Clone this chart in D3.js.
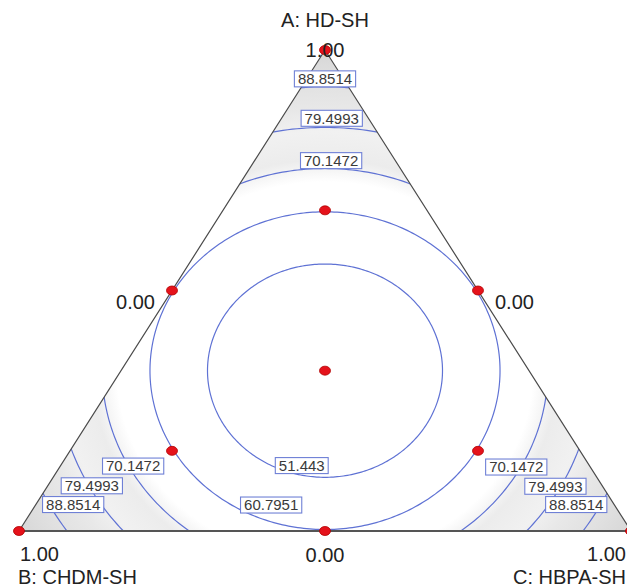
<!DOCTYPE html>
<html><head><meta charset="utf-8">
<script src="https://cdn.jsdelivr.net/npm/d3@7"></script>
<style>html,body{margin:0;padding:0;background:#fff;} svg{display:block;}</style>
</head><body>
<svg id="chart" width="627" height="588"></svg>
<script>
// ---- data (compositions are [A, B, C]) ----
const levels = [51.443, 60.7951, 70.1472, 79.4993, 88.8514];
const levelRadius = [0.192, 0.286, 0.364, 0.438, 0.511]; // distance from centroid (side = 1)
const labelLevel = [88.8514, 79.4993, 70.1472, 70.1472, 79.4993, 88.8514, 70.1472, 79.4993, 88.8514, 51.443, 60.7951];
const labelA = [0.940, 0.858, 0.770, 0.135, 0.094, 0.055, 0.133, 0.093, 0.055, 0.136, 0.054];
const labelC = [0.030, 0.082, 0.125, 0.119, 0.072, 0.061, 0.746, 0.830, 0.883, 0.394, 0.385];
const pointA = [1, 0, 0, 0.5, 0.5, 0, 1/3, 2/3, 1/6, 1/6];
const pointB = [0, 1, 0, 0.5, 0, 0.5, 1/3, 1/6, 2/3, 1/6];
const pointC = [0, 0, 1, 0, 0.5, 0.5, 1/3, 1/6, 1/6, 2/3];
const axisTitles = ["A: HD-SH", "B: CHDM-SH", "C: HBPA-SH"];
const vertexTicks = ["1.00", "1.00", "1.00"];
const oppositeTicks = ["0.00", "0.00", "0.00"]; // on sides BC, AC, AB

// ---- scales ----
const H = Math.sqrt(3) / 2;
const x = d3.scaleLinear().domain([0, 1]).range([19, 631]);
const y = d3.scaleLinear().domain([0, H]).range([531, 50]);
const proj = (a, b, c) => [x(c + a / 2), y(a * H)];
const cen = [0.5, H / 3];

const svg = d3.select("#chart");
const defs = svg.append("defs");
const A = proj(1, 0, 0), B = proj(0, 1, 0), C = proj(0, 0, 1);
const triPath = `M${A}L${B}L${C}Z`;
defs.append("clipPath").attr("id", "tri").append("path").attr("d", triPath);

// shading gradient (elliptical in px because of axis aspect)
const cpx = x(cen[0]), cpy = y(cen[1]);
const sx = x(1) - x(0), sy = (y(0) - y(H)) / H;
const grad = defs.append("radialGradient").attr("id", "shade")
  .attr("gradientUnits", "userSpaceOnUse")
  .attr("cx", cpx).attr("cy", cpy).attr("r", sx).attr("fx", cpx).attr("fy", cpy)
  .attr("gradientTransform", `translate(${cpx},${cpy}) scale(1,${sy / sx}) translate(${-cpx},${-cpy})`);
[[0, "#ffffff"], [0.34, "#ffffff"], [0.38, "#ececec"], [0.43, "#f1f1f1"], [0.47, "#e8e8e8"], [0.52, "#e1e1e1"], [0.58, "#d6d6d6"], [1, "#d6d6d6"]]
  .forEach(s => grad.append("stop").attr("offset", s[0]).attr("stop-color", s[1]));

const plot = svg.append("g").attr("clip-path", "url(#tri)");
plot.append("path").attr("d", triPath).attr("fill", "url(#shade)");

// contours
const angles = d3.range(0, 361, 1).map(d => d * Math.PI / 180);
const line = d3.line().x(p => x(p[0])).y(p => y(p[1]));
plot.selectAll("path.contour").data(levels).join("path")
  .attr("class", "contour")
  .attr("d", (v, i) => line(angles.map(t => [cen[0] + levelRadius[i] * Math.cos(t), cen[1] + levelRadius[i] * Math.sin(t)])))
  .attr("fill", "none").attr("stroke", "#5f72d4").attr("stroke-width", 1.2);

// triangle edges
svg.append("path").attr("d", `M${B}L${A}L${C}`).attr("fill", "none").attr("stroke", "#4a4a4a").attr("stroke-width", 1.2);
svg.append("path").attr("d", `M${B}L${C}`).attr("fill", "none").attr("stroke", "#555").attr("stroke-width", 2);

// contour labels
const lab = svg.append("g").attr("font-family", "Liberation Sans, Arial, sans-serif").attr("font-size", 15);
labelLevel.forEach((v, i) => {
  const a = labelA[i], c = labelC[i], b = 1 - a - c;
  const [px, py] = proj(a, b, c);
  const g = lab.append("g").attr("transform", `translate(${px},${py})`);
  const t = g.append("text").attr("text-anchor", "middle").attr("dy", "0.36em").attr("fill", "#3a3a3a").text(String(v));
  const w = t.node().getComputedTextLength() + 7;
  g.insert("rect", "text").attr("x", -w / 2).attr("y", -8).attr("width", w).attr("height", 16)
    .attr("fill", "#fff").attr("stroke", "#6f80d6").attr("stroke-width", 1.1);
});

// design points
svg.selectAll("ellipse.pt").data(pointA).join("ellipse").attr("class", "pt")
  .attr("cx", (a, i) => proj(a, pointB[i], pointC[i])[0])
  .attr("cy", (a, i) => proj(a, pointB[i], pointC[i])[1])
  .attr("rx", 5.5).attr("ry", 4.5).attr("fill", "#e5121b").attr("stroke", "#b00000").attr("stroke-width", 0.8);

// axis text
const txt = svg.append("g").attr("font-family", "Liberation Sans, Arial, sans-serif").attr("font-size", 20).attr("fill", "#222");
txt.append("text").attr("x", A[0]).attr("y", 27).attr("text-anchor", "middle").text(axisTitles[0]);
txt.append("text").attr("x", A[0]).attr("y", 57).attr("text-anchor", "middle").text(vertexTicks[0]);
txt.append("text").attr("x", B[0] + 1).attr("y", 561).attr("text-anchor", "start").text(vertexTicks[1]);
txt.append("text").attr("x", B[0] - 1).attr("y", 583.5).attr("text-anchor", "start").text(axisTitles[1]);
txt.append("text").attr("x", 626).attr("y", 561).attr("text-anchor", "end").text(vertexTicks[2]);
txt.append("text").attr("x", 626).attr("y", 583.5).attr("text-anchor", "end").text(axisTitles[2]);
const mBC = proj(0, 0.5, 0.5), mAB = proj(0.5, 0.5, 0), mAC = proj(0.5, 0, 0.5);
txt.append("text").attr("x", mBC[0]).attr("y", 562).attr("text-anchor", "middle").text(oppositeTicks[0]);
txt.append("text").attr("x", mAB[0] - 17).attr("y", 309).attr("text-anchor", "end").text(oppositeTicks[2]);
txt.append("text").attr("x", mAC[0] + 17).attr("y", 309).attr("text-anchor", "start").text(oppositeTicks[1]);
</script>
</body></html>
